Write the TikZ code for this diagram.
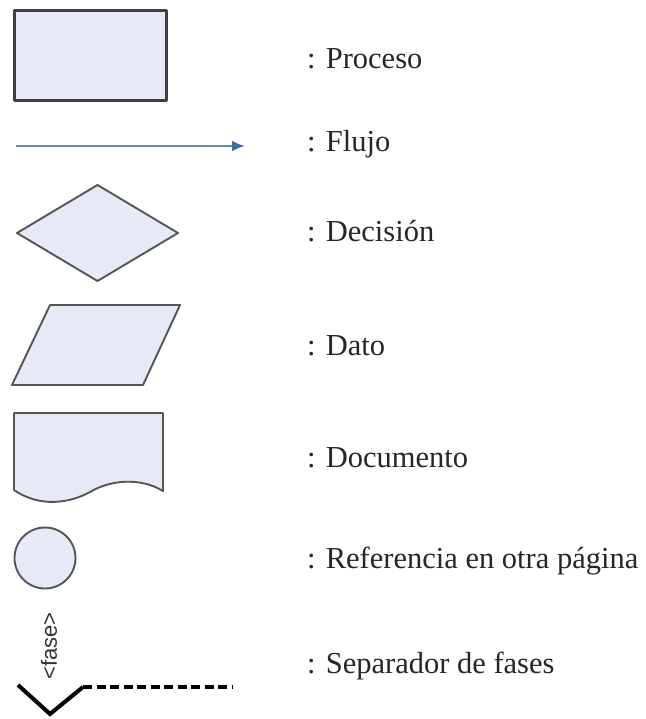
\documentclass[tikz,border=0pt]{standalone}
\usepackage{fontspec}
\setmainfont{Liberation Serif}
\newfontfamily\labsans{Liberation Sans}
\usetikzlibrary{arrows.meta}
\definecolor{shapefill}{RGB}{230,234,246}
\definecolor{shapeline}{RGB}{85,85,85}
\definecolor{flowblue}{RGB}{100,140,182}
\definecolor{headblue}{RGB}{64,110,165}
\begin{document}
\begin{tikzpicture}[x=1pt,y=-1pt,
  symb/.style={draw=shapeline,fill=shapefill,line width=1.9pt,line join=round},
  lbl/.style={anchor=base west,inner sep=0pt,font=\fontsize{30.5}{36}\selectfont,text=black!85}]
\useasboundingbox (0,0) rectangle (645,719);
% Proceso
\node[symb,draw=black!75,line width=2.4pt,minimum width=152pt,minimum height=90pt,inner sep=0pt] (proc) at (90.5,55.5) {};
% Flujo
\coordinate (fa) at (16,146);
\coordinate (fb) at (245,146);
\draw[flowblue,line width=2.6pt,-{Latex[length=13pt,width=11pt,color=headblue]}] (fa) -- (fb);
% Decision
\coordinate (dl) at (17,233);
\coordinate (dt) at (97.5,185);
\coordinate (dr) at (178,233);
\coordinate (db) at (97.5,281);
\draw[symb] (dl) -- (dt) -- (dr) -- (db) -- cycle;
% Dato
\draw[symb] (50,305) -- (180,305) -- (143,385) -- (12,385) -- cycle;
% Documento
\draw[symb] (14,490) -- (14,413) -- (163,413) -- (163,491)
  .. controls (140,477) and (110,480) .. (90,492)
  .. controls (70,503) and (40,508) .. (14,490) -- cycle;
% Referencia
\node[symb,circle,minimum size=61pt,inner sep=0pt] (ref) at (45,558) {};
% Separador
\node[rotate=90,inner sep=0pt,font=\labsans\fontsize{22}{24}\selectfont,text=black!80] (fase) at (49,646) {<fase>};
\coordinate (vl) at (18,685);
\coordinate (vb) at (50,714);
\coordinate (vr) at (83,687);
\coordinate (de) at (233,687);
\draw[black,line width=4pt,line join=miter] (vl) -- (vb) -- (vr);
\draw[black,line width=3.4pt,dash pattern=on 9pt off 4.5pt] (vr) -- (de);
% Labels
\node[lbl] (t1) at (307,69) {: Proceso};
\node[lbl] (t2) at (307,152) {: Flujo};
\node[lbl] (t3) at (307,241) {: Decisión};
\node[lbl] (t4) at (307,355) {: Dato};
\node[lbl] (t5) at (307,467) {: Documento};
\node[lbl] (t6) at (307,568) {: Referencia en otra página};
\node[lbl] (t7) at (307,673) {: Separador de fases};
\end{tikzpicture}
\end{document}
